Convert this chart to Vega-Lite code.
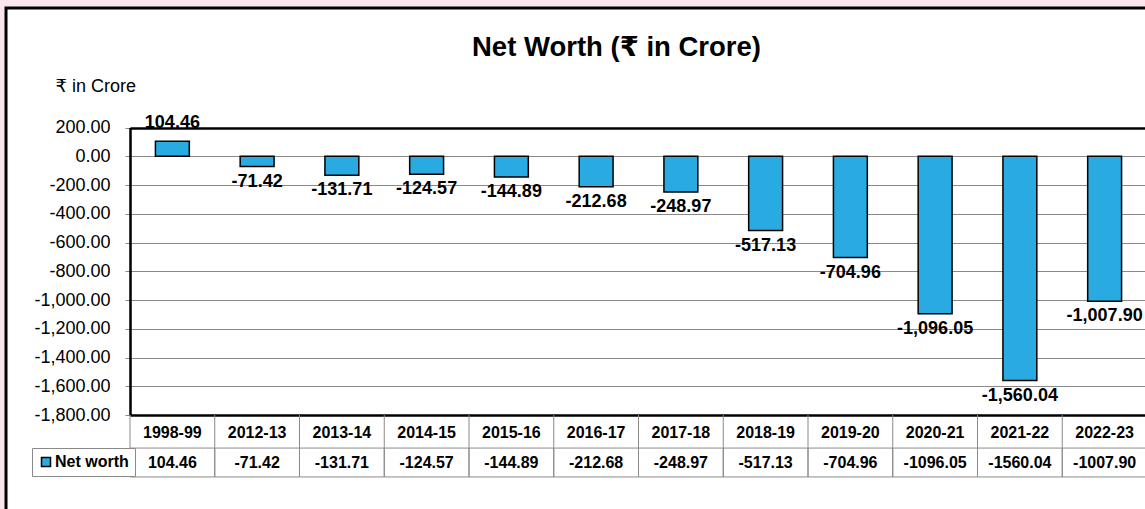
{
  "$schema": "https://vega.github.io/schema/vega-lite/v6.json",
  "width": 1139,
  "height": 501,
  "autosize": {"type": "none"},
  "padding": {"left": 6, "top": 8, "right": 0, "bottom": 0},
  "background": "#fce6ee",
  "config": {
    "view": {"fill": "white", "stroke": "black", "strokeWidth": 3, "strokeDash": [1139, 1640]},
    "font": "Liberation Sans, DejaVu Sans",
    "locale": {"number": {"decimal": ".", "thousands": ",", "grouping": [3], "currency": ["₹", ""], "minus": "-"}}
  },
  "title": {
    "text": "Net  Worth (₹ in Crore)",
    "font": "Liberation Sans, DejaVu Sans",
    "fontSize": 27.5,
    "fontWeight": "bold",
    "color": "black",
    "anchor": "middle",
    "frame": "group",
    "baseline": "middle",
    "offset": -67,
    "dx": 41
  },
  "data": {
    "values": [
      {"year": "1998-99", "value": 104.46},
      {"year": "2012-13", "value": -71.42},
      {"year": "2013-14", "value": -131.71},
      {"year": "2014-15", "value": -124.57},
      {"year": "2015-16", "value": -144.89},
      {"year": "2016-17", "value": -212.68},
      {"year": "2017-18", "value": -248.97},
      {"year": "2018-19", "value": -517.13},
      {"year": "2019-20", "value": -704.96},
      {"year": "2020-21", "value": -1096.05},
      {"year": "2021-22", "value": -1560.04},
      {"year": "2022-23", "value": -1007.90}
    ]
  },
  "encoding": {
    "x": {
      "field": "year",
      "type": "nominal",
      "sort": null,
      "axis": null,
      "scale": {"range": [124, 1141], "paddingInner": 0, "paddingOuter": 0}
    }
  },
  "layer": [
    {
      "mark": {"type": "rule", "color": "#8a8a8a", "strokeWidth": 1},
      "encoding": {
        "x": {"field": "year", "type": "nominal", "sort": null, "bandPosition": 0},
        "y": {"datum": -1800, "type": "quantitative"},
        "y2": {"datum": -2030}
      }
    },
    {
      "mark": {"type": "rect", "fill": "transparent", "stroke": "#8a8a8a", "strokeWidth": 1},
      "encoding": {
        "y": {"datum": -2030, "type": "quantitative"},
        "y2": {"datum": -2231}
      }
    },
    {
      "mark": {"type": "bar", "width": {"band": 0.4}, "stroke": "black", "strokeWidth": 1.5},
      "encoding": {
        "y": {
          "field": "value",
          "type": "quantitative",
          "scale": {"domain": [-1800, 200], "range": [407, 119.5], "nice": false, "zero": false},
          "axis": {
            "orient": "left",
            "offset": -124,
            "values": [-1800, -1600, -1400, -1200, -1000, -800, -600, -400, -200, 0, 200],
            "format": ",.2f",
            "labelFont": "Liberation Sans",
            "labelFontSize": 18,
            "labelColor": "black",
            "labelPadding": 15,
            "labelFlush": false,
            "labelOverlap": false,
            "tickSize": 5,
            "tickColor": "#8a8a8a",
            "domainColor": "black",
            "domainWidth": 2.5,
            "grid": true,
            "gridColor": {"condition": {"test": "datum.value === 200 || datum.value === -1800", "value": "black"}, "value": "#8a8a8a"},
            "gridWidth": {"condition": {"test": "datum.value === 200 || datum.value === -1800", "value": 2.5}, "value": 1},
            "title": "₹ in Crore",
            "titleAngle": 0,
            "titleAlign": "left",
            "titleBaseline": "middle",
            "titleX": -75,
            "titleY": 78,
            "titleFont": "Liberation Sans, DejaVu Sans",
            "titleFontSize": 18,
            "titleFontWeight": "normal",
            "titleColor": "black"
          }
        },
        "y2": {"datum": 0},
        "color": {
          "datum": "Net worth",
          "type": "nominal",
          "scale": {"range": ["#29abe2"]},
          "legend": {
            "orient": "none",
            "legendX": 26,
            "legendY": 440,
            "title": null,
            "padding": 6,
            "strokeColor": "#8a8a8a",
            "fillColor": "white",
            "symbolType": "square",
            "symbolSize": 81,
            "symbolStrokeColor": "black",
            "symbolStrokeWidth": 1.5,
            "labelFont": "Liberation Sans",
            "labelFontSize": 16,
            "labelFontWeight": "bold",
            "labelColor": "black",
            "labelOffset": 1
          }
        }
      }
    },
    {
      "transform": [{"filter": "datum.value >= 0"}],
      "mark": {"type": "text", "baseline": "bottom", "dy": -9, "fontSize": 18, "fontWeight": "bold", "color": "black", "font": "Liberation Sans"},
      "encoding": {
        "y": {"field": "value", "type": "quantitative"},
        "text": {"field": "value", "type": "quantitative", "format": ",.2f"}
      }
    },
    {
      "transform": [{"filter": "datum.value < 0"}],
      "mark": {"type": "text", "baseline": "top", "dy": 6, "fontSize": 18, "fontWeight": "bold", "color": "black", "font": "Liberation Sans"},
      "encoding": {
        "y": {"field": "value", "type": "quantitative"},
        "text": {"field": "value", "type": "quantitative", "format": ",.2f"}
      }
    },
    {
      "mark": {"type": "text", "baseline": "middle", "fontSize": 16, "fontWeight": "bold", "color": "black", "font": "Liberation Sans"},
      "encoding": {
        "y": {"datum": -1925, "type": "quantitative"},
        "text": {"field": "year", "type": "nominal"}
      }
    },
    {
      "mark": {"type": "text", "baseline": "middle", "fontSize": 16, "fontWeight": "bold", "color": "black", "font": "Liberation Sans"},
      "encoding": {
        "y": {"datum": -2134, "type": "quantitative"},
        "text": {"field": "value", "type": "quantitative", "format": ".2f"}
      }
    }
  ]
}
